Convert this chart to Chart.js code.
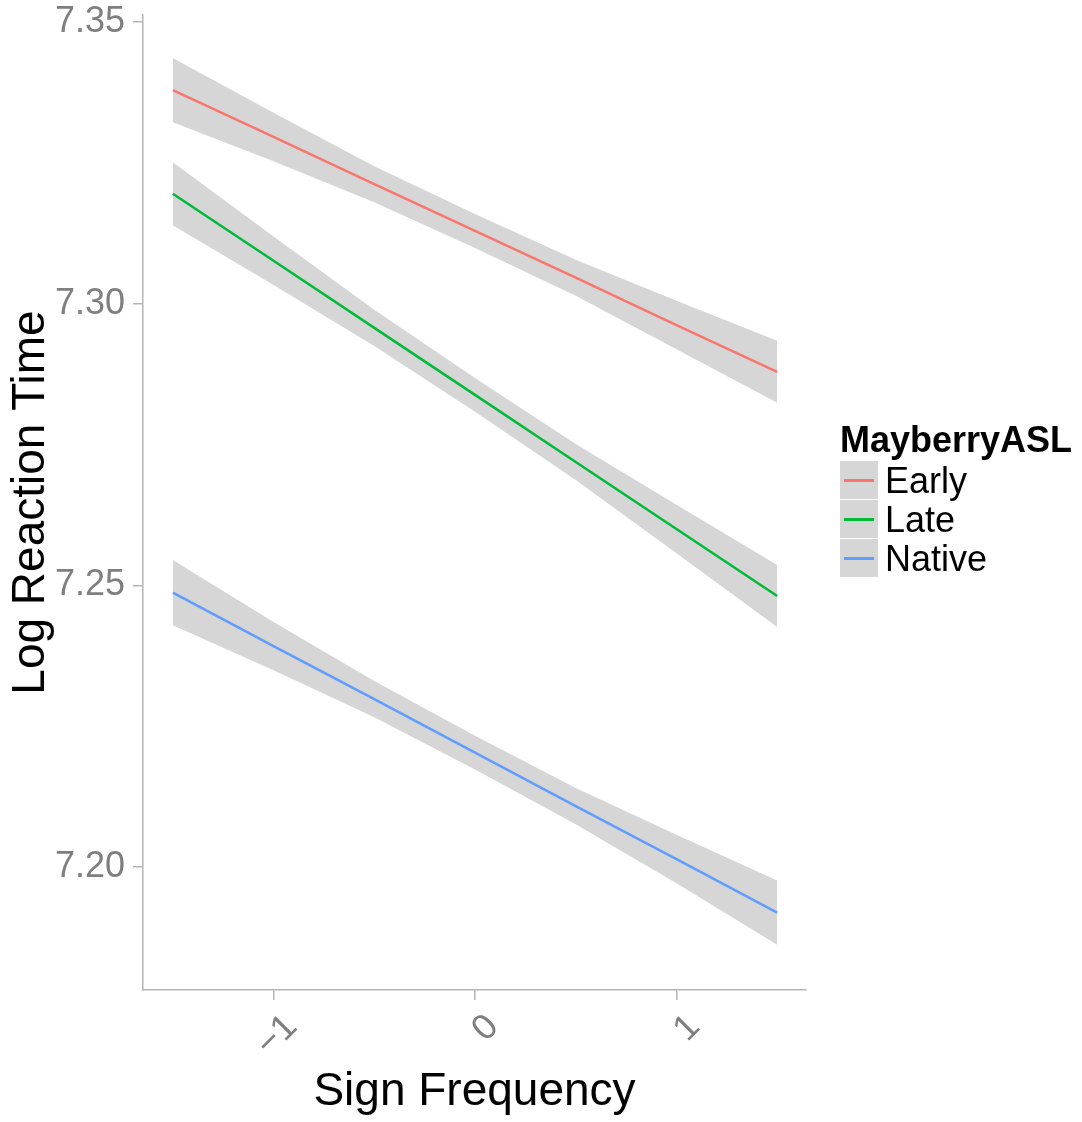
<!DOCTYPE html>
<html lang="en">
<head>
<meta charset="UTF-8">
<title>Log Reaction Time by Sign Frequency</title>
<script src="https://cdn.jsdelivr.net/npm/chart.js@4.4.1/dist/chart.umd.min.js"></script>
<style>
  * { margin: 0; padding: 0; box-sizing: border-box; }
  body { background: #fff; font-family: 'Liberation Sans', Arial, sans-serif; }
  #wrap { position: relative; width: 1082px; height: 1122px; }
  #chart { display: block; }
  .leg { position: absolute; left: 840px; top: 419px; color: #000; }
  .leg-title { font-weight: 700; font-size: 36px; line-height: 42px; white-space: nowrap; }
  .leg-item { display: flex; align-items: center; height: 39px; font-size: 36px; white-space: nowrap; }
  .leg-key { position: relative; width: 38px; height: 38px; margin-bottom: 1px; margin-right: 7px; background: #d6d6d6; }
  .leg-key span { position: absolute; left: 4px; right: 4px; top: 18px; height: 2.5px; }
</style>
</head>
<body>
<div id="wrap">
  <canvas id="chart" width="1082" height="1122"></canvas>
  <div class="leg" id="legend"></div>
</div>
<script>
'use strict';

// ----------------------------------------------------------------
// Data
// ----------------------------------------------------------------
const xVals  = [-1.5, -1, -0.5, 0, 0.5, 1, 1.5];
const xTicks = [-1, 0, 1];
const yTicks = [7.20, 7.25, 7.30, 7.35];

const earlyFit = [7.3379, 7.3296, 7.3212, 7.3129, 7.3046, 7.2962, 7.2879];
const earlyLo  = [7.3322, 7.3253, 7.3180, 7.3099, 7.3014, 7.2919, 7.2824];
const earlyHi  = [7.3436, 7.3339, 7.3244, 7.3159, 7.3078, 7.3005, 7.2934];

const lateFit  = [7.3195, 7.3076, 7.2957, 7.2838, 7.2719, 7.2600, 7.2481];
const lateLo   = [7.3139, 7.3033, 7.2925, 7.2808, 7.2687, 7.2557, 7.2426];
const lateHi   = [7.3251, 7.3119, 7.2989, 7.2868, 7.2751, 7.2643, 7.2536];

const nativeFit = [7.2487, 7.2392, 7.2298, 7.2203, 7.2108, 7.2014, 7.1919];
const nativeLo  = [7.2429, 7.2349, 7.2266, 7.2173, 7.2076, 7.1971, 7.1862];
const nativeHi  = [7.2545, 7.2435, 7.2330, 7.2233, 7.2140, 7.2057, 7.1976];

const SERIES = [
  { name: 'Early',  color: '#F8766D', fit: earlyFit,  lo: earlyLo,  hi: earlyHi },
  { name: 'Late',   color: '#00BA38', fit: lateFit,   lo: lateLo,   hi: lateHi },
  { name: 'Native', color: '#619CFF', fit: nativeFit, lo: nativeLo, hi: nativeHi }
];

const FONT = "'Liberation Sans', Arial, sans-serif";
const BAND = '#d6d6d6';
const AXIS_GREY = '#b5b5b5';

const pts = ys => xVals.map((x, i) => ({ x, y: ys[i] }));

// ----------------------------------------------------------------
// Datasets: ribbons first (drawn below), then fitted lines
// ----------------------------------------------------------------
const datasets = [];
SERIES.forEach(s => {
  datasets.push({ data: pts(s.hi), fill: '+1', backgroundColor: BAND, borderWidth: 0, order: 2 });
  datasets.push({ data: pts(s.lo), fill: false, borderWidth: 0, order: 2 });
});
SERIES.forEach(s => {
  datasets.push({ label: s.name, data: pts(s.fit), borderColor: s.color, borderWidth: 2.5, fill: false, order: 1 });
});

new Chart(document.getElementById('chart'), {
  type: 'line',
  data: { datasets },
  options: {
    responsive: false,
    animation: false,
    layout: { padding: { top: 15, right: 276, bottom: 0, left: 0 } },
    elements: { point: { radius: 0 }, line: { tension: 0 } },
    plugins: { legend: { display: false }, tooltip: { enabled: false } },
    scales: {
      x: {
        type: 'linear',
        min: -1.648,
        max: 1.643,
        afterBuildTicks: s => { s.ticks = xTicks.map(v => ({ value: v })); },
        afterFit: s => { s.height = 132; s.paddingLeft = 0; s.paddingRight = 0; },
        grid: { drawOnChartArea: false, tickLength: 10, color: AXIS_GREY, lineWidth: 1.5 },
        border: { color: AXIS_GREY, width: 1.5 },
        ticks: {
          color: '#7f7f7f', font: { size: 36, family: FONT },
          minRotation: 45, maxRotation: 45, padding: 6, labelOffset: 18,
          callback: v => String(v).replace('-', '\u2212')
        },
        title: { display: true, text: 'Sign Frequency', color: '#000', font: { size: 46, family: FONT }, padding: { top: 0, bottom: 2 } }
      },
      y: {
        min: 7.17816,
        max: 7.35124,
        afterBuildTicks: s => { s.ticks = yTicks.map(v => ({ value: v })); },
        afterFit: s => { s.width = 143; s.paddingTop = 0; s.paddingBottom = 0; },
        grid: { drawOnChartArea: false, tickLength: 10, color: AXIS_GREY, lineWidth: 1.5 },
        border: { color: AXIS_GREY, width: 1.5 },
        ticks: { color: '#7f7f7f', font: { size: 36, family: FONT }, padding: 8, callback: v => v.toFixed(2) },
        title: { display: true, text: 'Log Reaction Time', color: '#000', font: { size: 46, family: FONT }, padding: { top: 4, bottom: 0 } }
      }
    }
  }
});

// ----------------------------------------------------------------
// Legend (ggplot-style keys: grey box with coloured line)
// ----------------------------------------------------------------
document.getElementById('legend').innerHTML =
  '<div class="leg-title">MayberryASL</div>' +
  SERIES.map(s => `
    <div class="leg-item">
      <div class="leg-key"><span style="background:${s.color}"></span></div>${s.name}
    </div>`).join('');
</script>
</body>
</html>
